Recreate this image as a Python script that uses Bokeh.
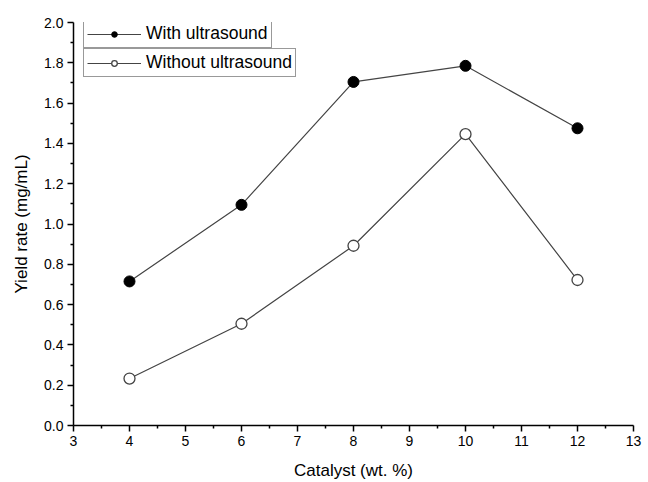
from bokeh.plotting import figure
from bokeh.models import Legend, LegendItem, Range1d, FixedTicker, CustomJSTickFormatter
from bokeh.embed import file_html
from bokeh.resources import INLINE

catalyst = [4, 6, 8, 10, 12]
with_ultrasound = [0.715, 1.095, 1.705, 1.785, 1.475]
without_ultrasound = [0.233, 0.505, 0.892, 1.446, 0.722]
x_ticks = [3, 4, 5, 6, 7, 8, 9, 10, 11, 12, 13]
y_ticks = [0.0, 0.2, 0.4, 0.6, 0.8, 1.0, 1.2, 1.4, 1.6, 1.8, 2.0]

FONT = "Liberation Sans"

p = figure(width=642, height=482, output_backend="svg", toolbar_location=None,
           x_range=Range1d(3, 13), y_range=Range1d(0, 2.0),
           min_border_left=73, min_border_right=9, min_border_top=22, min_border_bottom=56)
p.outline_line_color = None
p.grid.visible = False

l1 = p.line(catalyst, with_ultrasound, line_color="#444444", line_width=1.2)
m1 = p.scatter(catalyst, with_ultrasound, size=11, fill_color="black", line_color="black")
l2 = p.line(catalyst, without_ultrasound, line_color="#444444", line_width=1.2)
m2 = p.scatter(catalyst, without_ultrasound, size=11, fill_color="white", line_color="#444444", line_width=1.3)

for ax in (p.xaxis[0], p.yaxis[0]):
    ax.axis_line_width = 1.5
    ax.axis_line_color = "black"
    ax.major_tick_line_width = 1.5
    ax.minor_tick_line_width = 1.5
    ax.major_tick_out = 6
    ax.major_tick_in = 0
    ax.minor_tick_out = 3
    ax.minor_tick_in = 0
    ax.major_label_text_font = FONT
    ax.major_label_text_font_size = "14px"
    ax.major_label_text_color = "black"
    ax.major_label_standoff = 4
    ax.axis_label_text_font = FONT
    ax.axis_label_text_font_size = "17px"
    ax.axis_label_text_font_style = "normal"
    ax.axis_label_text_color = "black"

p.xaxis.ticker = FixedTicker(ticks=x_ticks, minor_ticks=[3.5 + i for i in range(10)])
p.yaxis.ticker = FixedTicker(ticks=y_ticks, minor_ticks=[0.1 + 0.2 * i for i in range(10)])
p.yaxis.formatter = CustomJSTickFormatter(code="return tick.toFixed(1);")
p.xaxis.axis_label = "Catalyst (wt. %)"
p.yaxis.axis_label = "Yield rate (mg/mL)"
p.xaxis.axis_label_standoff = 12
p.yaxis.axis_label_standoff = 10

def make_legend(label, renderers, loc):
    lg = Legend(items=[LegendItem(label=label, renderers=renderers)], location=loc,
                border_line_color="#333333", border_line_width=1,
                label_text_font=FONT, label_text_font_size="17.5px", label_text_color="black",
                label_height=16,
                glyph_width=54, glyph_height=14, padding=3, margin=0,
                label_standoff=5, spacing=0, background_fill_alpha=1)
    p.add_layout(lg, "center")

make_legend("With ultrasound", [l1, m1], (10, 377))
make_legend("Without ultrasound", [l2, m2], (10, 348))

open("out.html", "w").write(file_html(p, INLINE))
